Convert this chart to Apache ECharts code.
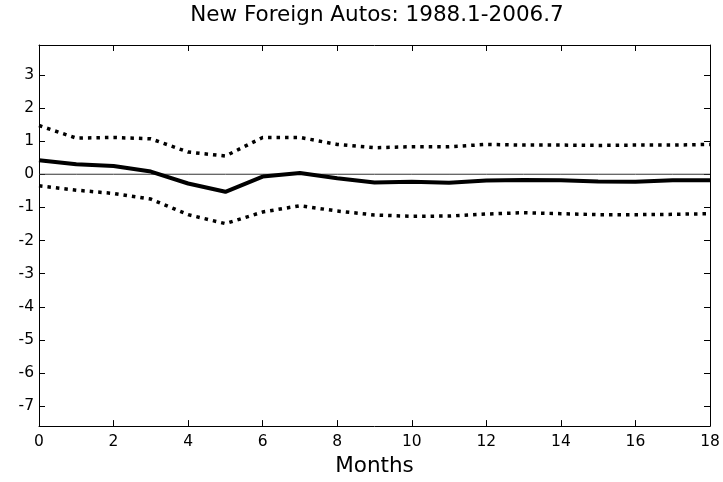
<!DOCTYPE html>
<html>
<head>
<meta charset="utf-8">
<script src="https://cdn.jsdelivr.net/npm/echarts@6/dist/echarts.min.js"></script>
<style>
html,body{margin:0;padding:0;background:#fff;}
#chart{width:723px;height:482px;}
</style>
</head>
<body>
<div id="chart"></div>
<script>
const titleText = 'New Foreign Autos: 1988.1-2006.7';
const xAxisName = 'Months';
const months = [0,1,2,3,4,5,6,7,8,9,10,11,12,13,14,15,16,17,18];
const response = [0.42,0.30,0.25,0.08,-0.28,-0.53,-0.07,0.04,-0.12,-0.25,-0.23,-0.26,-0.19,-0.17,-0.18,-0.22,-0.23,-0.18,-0.18];
const upperBand = [1.47,1.09,1.11,1.07,0.67,0.55,1.11,1.11,0.90,0.80,0.83,0.83,0.90,0.88,0.88,0.87,0.88,0.88,0.90];
const lowerBand = [-0.35,-0.48,-0.58,-0.75,-1.22,-1.49,-1.14,-0.95,-1.11,-1.23,-1.27,-1.26,-1.20,-1.16,-1.19,-1.22,-1.22,-1.21,-1.19];
const yTicks = [-7,-6,-5,-4,-3,-2,-1,0,1,2,3];
const xTicks = [0,2,4,6,8,10,12,14,16,18];

const font = 'DejaVu Sans, Liberation Sans, Arial, sans-serif';
const pairs = arr => months.map((m, i) => [m, arr[i]]);

const chart = echarts.init(document.getElementById('chart'), null, {renderer: 'canvas'});
const axisLine = {show: true, onZero: false, lineStyle: {color: '#000', width: 1}};
const tick = {show: true, inside: true, length: 6, lineStyle: {color: '#000', width: 1}};

chart.setOption({
  animation: false,
  backgroundColor: '#fff',
  title: {
    text: titleText,
    left: 372,
    textAlign: 'center',
    top: -1,
    textStyle: {fontFamily: font, fontSize: 21.5, fontWeight: 'normal', color: '#000'}
  },
  grid: {left: 39, right: 13, top: 45, bottom: 53, containLabel: false},
  xAxis: [{
    type: 'value', min: 0, max: 18, interval: 2, position: 'bottom',
    name: xAxisName, nameLocation: 'middle', nameGap: 27,
    nameTextStyle: {fontFamily: font, fontSize: 21.5, color: '#000'},
    axisLine: axisLine,
    axisTick: Object.assign({}, tick, {customValues: xTicks}),
    axisLabel: {fontFamily: font, fontSize: 15.5, color: '#000', margin: 8, customValues: xTicks},
    splitLine: {show: false}
  }, {
    type: 'value', min: 0, max: 18, interval: 2, position: 'top',
    axisLine: axisLine,
    axisTick: Object.assign({}, tick, {customValues: xTicks}),
    axisLabel: {show: false},
    splitLine: {show: false}
  }],
  yAxis: [{
    type: 'value', min: -7.6, max: 3.9, position: 'left',
    axisLine: axisLine,
    axisTick: Object.assign({}, tick, {customValues: yTicks}),
    axisLabel: {fontFamily: font, fontSize: 15.5, color: '#000', margin: 5, padding: [3, 0, 0, 0], customValues: yTicks},
    splitLine: {show: false}
  }, {
    type: 'value', min: -7.6, max: 3.9, position: 'right',
    axisLine: axisLine,
    axisTick: Object.assign({}, tick, {customValues: yTicks}),
    axisLabel: {show: false},
    splitLine: {show: false}
  }],
  series: [{
    type: 'line', name: 'zero', data: pairs(months.map(() => 0)),
    showSymbol: false, silent: true, z: 1,
    lineStyle: {color: '#333', width: 1}
  }, {
    type: 'line', name: 'upper', data: pairs(upperBand),
    showSymbol: false, z: 2,
    lineStyle: {color: '#000', width: 3.5, type: [3.5, 5], cap: 'butt'}
  }, {
    type: 'line', name: 'lower', data: pairs(lowerBand),
    showSymbol: false, z: 2,
    lineStyle: {color: '#000', width: 3.5, type: [3.5, 5], cap: 'butt'}
  }, {
    type: 'line', name: 'response', data: pairs(response),
    showSymbol: false, z: 3,
    lineStyle: {color: '#000', width: 4}
  }]
});
</script>
</body>
</html>
